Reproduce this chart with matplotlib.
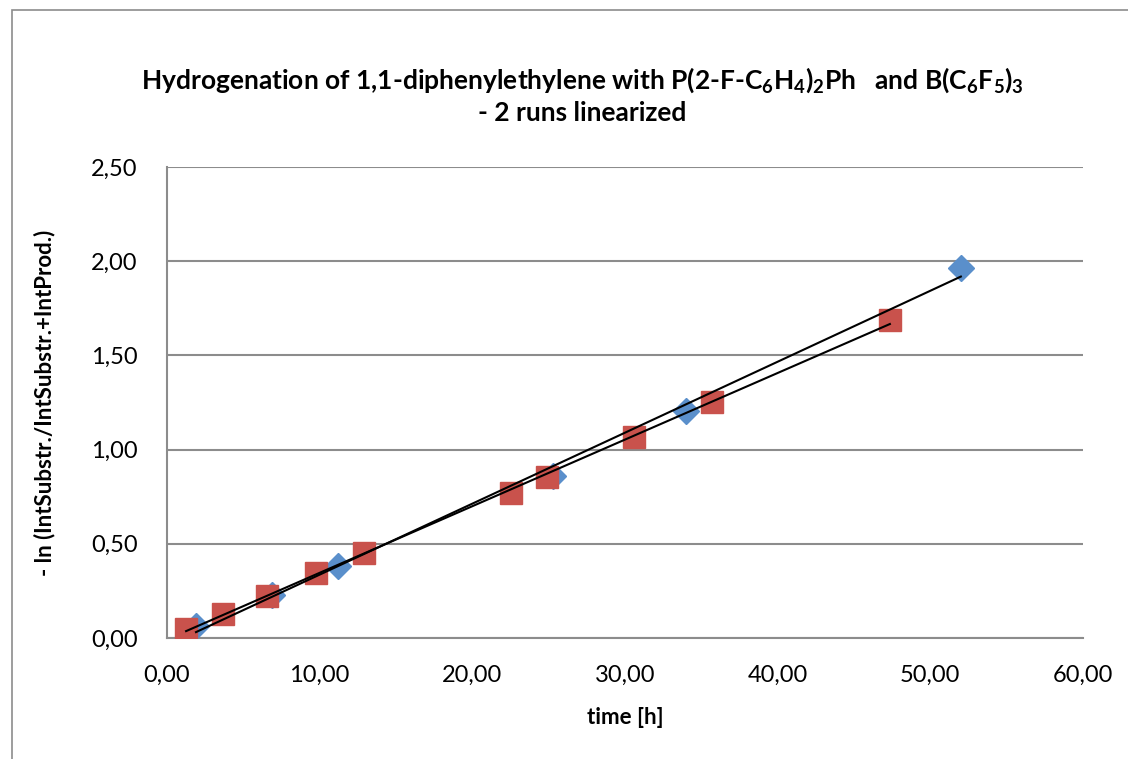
import numpy as np
import matplotlib.pyplot as plt
from matplotlib.ticker import FuncFormatter, MultipleLocator
from matplotlib.patches import Rectangle

plt.rcParams['font.family'] = ['Lato', 'DejaVu Sans']
plt.rcParams['mathtext.fontset'] = 'custom'
plt.rcParams['mathtext.rm'] = 'Lato:bold'
plt.rcParams['mathtext.bf'] = 'Lato:bold'
plt.rcParams['mathtext.default'] = 'bf'

# run 1 (blue diamonds)
t_run1 = [1.9, 6.9, 11.2, 25.3, 34.0, 52.0]
y_run1 = [0.064, 0.23, 0.38, 0.86, 1.205, 1.965]

# run 2 (red squares)
t_run2 = [1.25, 3.7, 6.55, 9.76, 12.9, 22.5, 24.9, 30.6, 35.7, 47.35]
y_run2 = [0.048, 0.127, 0.223, 0.345, 0.45, 0.77, 0.855, 1.067, 1.253, 1.688]

blue = '#5A8FCB'
red = '#C9524C'
grid_col = '#8C8C8C'

fig = plt.figure(figsize=(11.28, 7.59), dpi=100)
ax = fig.add_axes([167/1128, 1-638/759, (1083-167)/1128, (638-167)/759])

# outer chart border
fig.patches.append(Rectangle((12/1128, -0.1), 1.2, 1-10/759+0.1,
                             transform=fig.transFigure, fill=False,
                             edgecolor='#8C8C8C', lw=1.2))

ax.plot(t_run1, y_run1, linestyle='none', marker='D', ms=13,
        color=blue, mec=blue, zorder=3)
ax.plot(t_run2, y_run2, linestyle='none', marker='s', ms=15.5,
        color=red, mec=red, zorder=4)

# linear trendlines
for t, y in [(t_run1, y_run1), (t_run2, y_run2)]:
    k, d = np.polyfit(t, y, 1)
    xs = np.array([min(t), max(t)])
    ax.plot(xs, k*xs + d, color='black', lw=1.5, zorder=5)

ax.set_xlim(0, 60)
ax.set_ylim(0, 2.5)
ax.xaxis.set_major_locator(MultipleLocator(10))
ax.yaxis.set_major_locator(MultipleLocator(0.5))
fmt = FuncFormatter(lambda v, p: f"{v:.2f}".replace('.', ','))
ax.xaxis.set_major_formatter(fmt)
ax.yaxis.set_major_formatter(fmt)
ax.tick_params(labelsize=17, length=0)
ax.tick_params(axis='x', pad=19)
ax.tick_params(axis='y', pad=21)
ax.grid(axis='y', color=grid_col, lw=1.5)
ax.set_axisbelow(True)
for s in ['top', 'right']:
    ax.spines[s].set_visible(False)
for s in ['left', 'bottom']:
    ax.spines[s].set_color(grid_col)
    ax.spines[s].set_linewidth(1.5)

ax.set_xlabel('time [h]', fontsize=16, fontweight='bold', va='center')
ax.xaxis.set_label_coords(0.5, (638-717)/471)
ax.set_ylabel('- ln (IntSubstr./IntSubstr.+IntProd.)', fontsize=16,
              fontweight='bold', va='center')
ax.yaxis.set_label_coords((45-167)/916, 0.5)

fig.text(0.516, 1-80/759,
         r'Hydrogenation of 1,1-diphenylethylene with P(2-F-C$_6$H$_4$)$_2$Ph   and B(C$_6$F$_5$)$_3$',
         ha='center', va='center', fontsize=19, fontweight='bold')
fig.text(0.516, 1-113/759, '- 2 runs linearized', ha='center', va='center',
         fontsize=19, fontweight='bold')

fig.savefig('out.png', dpi=100)
